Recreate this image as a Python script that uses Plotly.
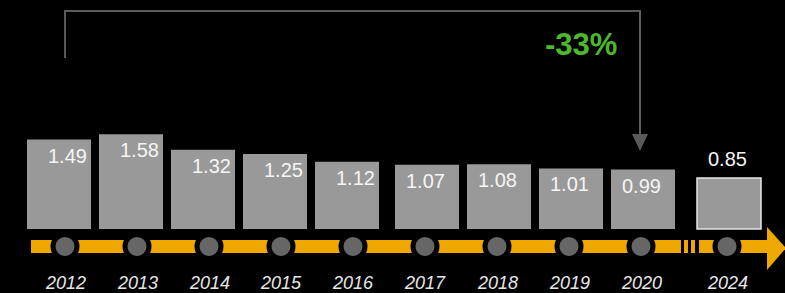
import plotly.graph_objects as go

# ---- data ----
years = ["2012", "2013", "2014", "2015", "2016", "2017", "2018", "2019", "2020", "2024"]
values = [1.49, 1.58, 1.32, 1.25, 1.12, 1.07, 1.08, 1.01, 0.99, 0.85]
value_labels = ["1.49", "1.58", "1.32", "1.25", "1.12", "1.07", "1.08", "1.01", "0.99", "0.85"]
change_label = "-33%"

# ---- layout helpers (pixel -> data) ----
W, H = 785, 293
SLOT = 72.0          # px per year slot
X_ORIGIN = 65.0      # px of first year
BASE = 229.0         # px of value 0
PPU = 60.0           # px per unit
x0 = -X_ORIGIN / SLOT
x1 = x0 + W / SLOT
y1 = BASE / PPU
y0 = (BASE - H) / PPU


def fx(px):
    return x0 + px / SLOT


def fy(py):
    return (BASE - py) / PPU


# x positions: regular slots, last one (2024) after a break
pos = [float(i) for i in range(len(years) - 1)] + [fx(727)]
bar_w = 64 / SLOT
offsets = [-38 / SLOT if i < 5 else -30 / SLOT for i in range(len(years))]

BAR = "#999999"
ORANGE = "#EFA800"
GREEN = "#4DB82B"
LINE = "#5A5A5A"

fig = go.Figure()

fig.add_trace(go.Bar(
    x=pos, y=values, width=[bar_w] * len(years), offset=offsets,
    marker=dict(color=BAR,
                line=dict(color=["rgba(0,0,0,0)"] * (len(years) - 1) + ["#E6E6E6"],
                          width=[0] * (len(years) - 1) + [1.5])),
    hoverinfo="skip", showlegend=False,
))

# timeline dots
fig.add_trace(go.Scatter(
    x=pos, y=[fy(246.5)] * len(years), mode="markers",
    marker=dict(size=24, color="#666666", line=dict(color="#000000", width=5)),
    hoverinfo="skip", showlegend=False,
))

shapes = []
# orange band
shapes.append(dict(type="rect", x0=fx(31), x1=fx(768), y0=fy(240), y1=fy(253),
                   fillcolor=ORANGE, line=dict(width=0), layer="below"))
# arrow head
shapes.append(dict(type="path",
                   path=f"M {fx(767)} {fy(227)} L {fx(786)} {fy(248)} L {fx(767)} {fy(270)} Z",
                   fillcolor=ORANGE, line=dict(width=0), layer="below"))
# break marks
for a, b in [(681, 684), (688, 691), (695, 699)]:
    shapes.append(dict(type="rect", x0=fx(a), x1=fx(b), y0=fy(238), y1=fy(255),
                       fillcolor="#000000", line=dict(width=0), layer="below"))
# bracket
shapes.append(dict(type="path",
                   path=f"M {fx(65)} {fy(58)} L {fx(65)} {fy(11)} L {fx(640)} {fy(11)} L {fx(640)} {fy(136)}",
                   line=dict(color=LINE, width=2)))
shapes.append(dict(type="path",
                   path=f"M {fx(632)} {fy(134)} L {fx(648)} {fy(134)} L {fx(640)} {fy(151)} Z",
                   fillcolor=LINE, line=dict(width=0)))

annotations = []
for i, (p, v, t) in enumerate(zip(pos, values, value_labels)):
    last = i == len(years) - 1
    annotations.append(dict(
        x=p, y=v, text=t, showarrow=False, xshift=2 if i < 5 else 0,
        yshift=19 if last else -16, yanchor="middle", xanchor="center",
        font=dict(family="Liberation Sans, Arial", size=20, color="#F5F5F5"),
    ))
for p, yr in zip(pos, years):
    annotations.append(dict(
        x=p, y=fy(283), text=f"<i>{yr}</i>", showarrow=False,
        xanchor="center", yanchor="middle",
        font=dict(family="Liberation Sans, Arial", size=18, color="#E8E8E8"),
    ))
annotations.append(dict(
    x=fx(581), y=fy(44), text=f"<b>{change_label}</b>", showarrow=False,
    xanchor="center", yanchor="middle",
    font=dict(family="Liberation Sans, Arial", size=31, color=GREEN),
))

fig.update_layout(
    width=W, height=H,
    margin=dict(l=0, r=0, t=0, b=0),
    paper_bgcolor="#000000", plot_bgcolor="#000000",
    xaxis=dict(range=[x0, x1], visible=False, fixedrange=True),
    yaxis=dict(range=[y0, y1], visible=False, fixedrange=True),
    shapes=shapes, annotations=annotations,
    showlegend=False,
)

fig.write_html(
    "out.html",
    config={"displayModeBar": False},
    post_script="document.body.style.margin='0';document.body.style.overflow='hidden';document.body.style.background='#000';",
)
